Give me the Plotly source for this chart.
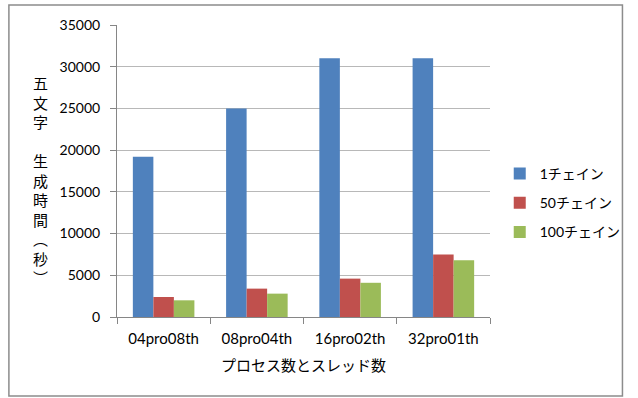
import plotly.graph_objects as go

categories = ["04pro08th", "08pro04th", "16pro02th", "32pro01th"]
series_names = ["1チェイン", "50チェイン", "100チェイン"]
chain1 = [19200, 25000, 31000, 31000]
chain50 = [2400, 3400, 4600, 7500]
chain100 = [2000, 2800, 4100, 6800]
colors = ["#4F81BD", "#C0504D", "#9BBB59"]
y_ticks = [0, 5000, 10000, 15000, 20000, 25000, 30000, 35000]
x_title = "プロセス数とスレッド数"
y_title_chars = ["五", "文", "字", "　", "生", "成", "時", "間", "︵", "秒", "︶"]

FONT = "Lato, 'Noto Sans CJK JP', sans-serif"
JP = "'Noto Sans CJK JP', sans-serif"

fig = go.Figure()
for name, vals, col in zip(series_names, [chain1, chain50, chain100], colors):
    fig.add_trace(go.Bar(x=categories, y=vals, name=name, marker_color=col,
                         marker_line_width=0, legendgroup=name))

W, H = 638, 398
L, R, T, B = 117, 138, 25, 81
pw, ph = W - L - R, H - T - B

def px_x(p):
    return (p - L) / pw

def px_y(p):
    return (H - B - p) / ph

fig.update_layout(
    width=W, height=H,
    margin=dict(l=L, r=R, t=T, b=B),
    paper_bgcolor="white", plot_bgcolor="white",
    font=dict(family=FONT, size=15, color="#000000"),
    barmode="group", bargap=0.34, bargroupgap=0,
    showlegend=True,
    legend=dict(x=px_x(510), y=px_y(158), xanchor="left", yanchor="top",
                font=dict(family=FONT, size=14), tracegroupgap=8,
                bgcolor="rgba(0,0,0,0)"),
    xaxis=dict(
        type="category", showline=True, linecolor="#868686", linewidth=1,
        ticks="outside", tickson="boundaries", ticklen=6, tickcolor="#868686",
        showgrid=False, tickfont=dict(size=15), ticklabelstandoff=8,
        title=dict(text=x_title, font=dict(family=JP, size=15), standoff=14),
    ),
    yaxis=dict(
        range=[0, 35000], tickvals=y_ticks, ticktext=[str(v) for v in y_ticks],
        showline=True, linecolor="#868686",
        linewidth=1, ticks="outside", ticklen=6, tickcolor="#868686",
        showgrid=True, gridcolor="#B8B8B8", gridwidth=1, zeroline=False,
        tickfont=dict(size=14), ticklabelstandoff=7,
    ),
    shapes=[dict(type="rect", xref="paper", yref="paper",
                 x0=px_x(6), x1=px_x(636), y0=px_y(396), y1=px_y(5),
                 line=dict(color="#8C8C8C", width=1.5), fillcolor="rgba(0,0,0,0)",
                 layer="below")],
    annotations=[dict(text="<br>".join(y_title_chars), xref="paper", yref="paper",
                      x=px_x(38), y=px_y(180), xanchor="center", yanchor="middle",
                      showarrow=False, font=dict(family=JP, size=15))],
)

fig.write_html("out.html")
